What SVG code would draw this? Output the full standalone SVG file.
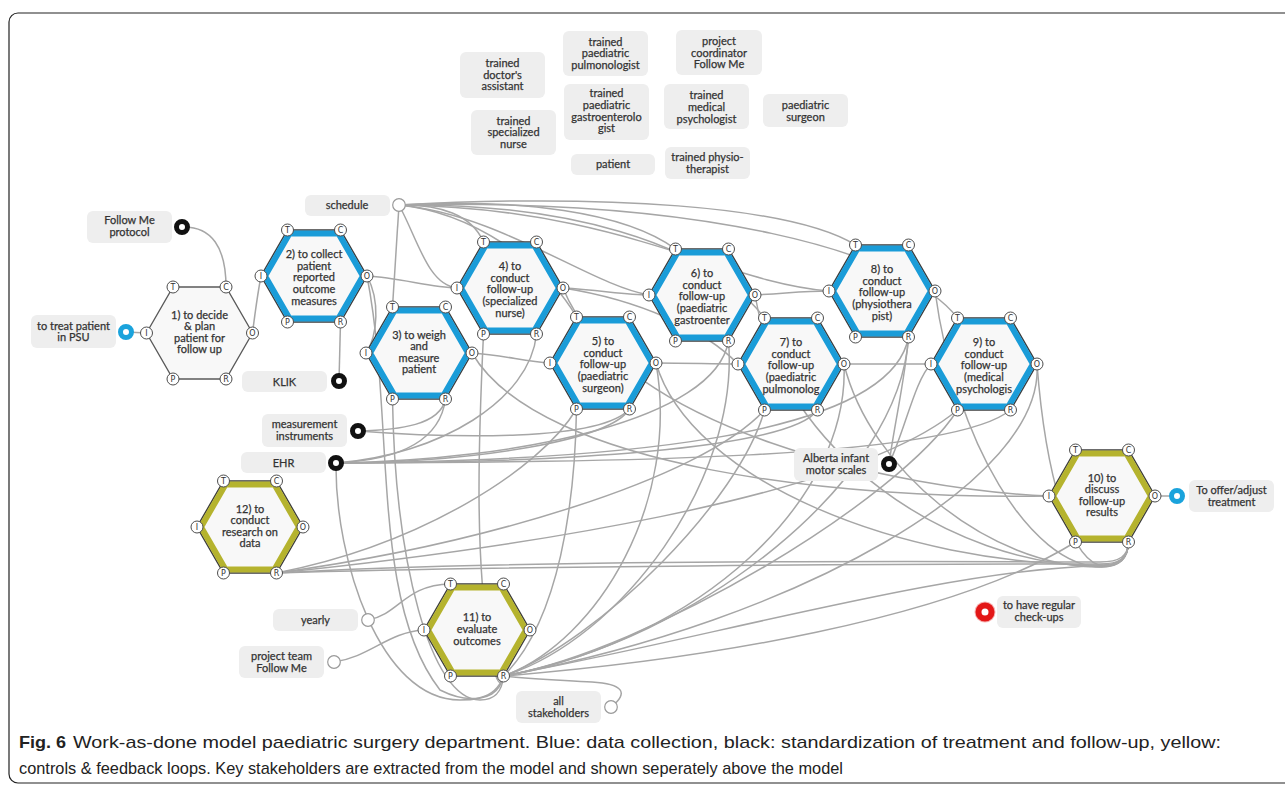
<svg xmlns="http://www.w3.org/2000/svg" xmlns:xlink="http://www.w3.org/1999/xlink" width="1285" height="791" viewBox="0 0 1285 791">
<style>
  .wire{fill:none;stroke:#a6a6a6;stroke-width:1.5}
  .box{fill:#eeeeee}
  .lbl{font-family:Lato,"Open Sans","Liberation Sans",sans-serif;font-size:11px;fill:#333;stroke:#333;stroke-width:0.25;text-anchor:middle}
  .ht{font-family:Lato,"Open Sans","Liberation Sans",sans-serif;font-size:11px;fill:#333;stroke:#333;stroke-width:0.25;text-anchor:middle}
  .outline{fill:#f8f8f8;stroke:#3d3d3d;stroke-width:1.5}
  .plain{fill:#f8f8f8;stroke:#5a5a5a;stroke-width:1.3}
  .blue{fill:none;stroke:#1a9cd8;stroke-width:6}
  .yellow{fill:none;stroke:#b5b32e;stroke-width:6}
  .pcir{fill:#ffffff;stroke:#4d4d4d;stroke-width:1}
  .ptxt{font-family:"DejaVu Sans","Liberation Sans",sans-serif;font-size:8px;fill:#333;text-anchor:middle}
  .dotk{fill:#ffffff;stroke:#111111;stroke-width:5}
  .dotb{fill:#ffffff;stroke:#1aa3dc;stroke-width:5}
  .ring{fill:#ffffff;stroke:#9a9a9a;stroke-width:1.2}
  .cap{font-family:"Liberation Sans Narrow","Liberation Sans",sans-serif;font-size:17px;fill:#222}
</style>
<defs>
  <path id="hexOuter" d="M-26.5,-46H26.5L53,0L26.5,46H-26.5L-53,0Z"/>
  <path id="hexBand" d="M-24.5,-42.5H24.5L49,0L24.5,42.5H-24.5L-49,0Z"/>
  <g id="ports">
    <circle class="pcir" cx="-26.5" cy="-46" r="6"/><text class="ptxt" x="-26.5" y="-43">T</text>
    <circle class="pcir" cx="26.5" cy="-46" r="6"/><text class="ptxt" x="26.5" y="-43">C</text>
    <circle class="pcir" cx="-53" cy="0" r="6"/><text class="ptxt" x="-53" y="3">I</text>
    <circle class="pcir" cx="53" cy="0" r="6"/><text class="ptxt" x="53" y="3">O</text>
    <circle class="pcir" cx="-26.5" cy="46" r="6"/><text class="ptxt" x="-26.5" y="49">P</text>
    <circle class="pcir" cx="26.5" cy="46" r="6"/><text class="ptxt" x="26.5" y="49">R</text>
  </g>
</defs>

<rect width="1285" height="791" fill="#ffffff"/>
<!-- figure frame -->
<rect x="9" y="13" width="1300" height="770" rx="9" fill="none" stroke="#222" stroke-width="1.2"/>

<!-- stakeholder list -->
<g id="stakeholders">
  <g id="s-doctor-assistant"><rect class="box" x="460" y="52" width="85" height="46" rx="6"/>
    <text class="lbl"><tspan x="502.5" y="67">trained</tspan><tspan x="502.5" y="78.5">doctor's</tspan><tspan x="502.5" y="90">assistant</tspan></text></g>
  <g id="s-pulmonologist"><rect class="box" x="563" y="31" width="85" height="45" rx="6"/>
    <text class="lbl"><tspan x="605.5" y="45.5">trained</tspan><tspan x="605.5" y="57">paediatric</tspan><tspan x="605.5" y="68.5">pulmonologist</tspan></text></g>
  <g id="s-coordinator"><rect class="box" x="676" y="30" width="86" height="45" rx="6"/>
    <text class="lbl"><tspan x="719" y="45">project</tspan><tspan x="719" y="56.5">coordinator</tspan><tspan x="719" y="68">Follow Me</tspan></text></g>
  <g id="s-gastro"><rect class="box" x="564" y="84" width="85" height="56" rx="6"/>
    <text class="lbl"><tspan x="606.5" y="97.3">trained</tspan><tspan x="606.5" y="109">paediatric</tspan><tspan x="606.5" y="120.7">gastroenterolo</tspan><tspan x="606.5" y="132.4">gist</tspan></text></g>
  <g id="s-psychologist"><rect class="box" x="664" y="84" width="85" height="45" rx="6"/>
    <text class="lbl"><tspan x="706.5" y="99">trained</tspan><tspan x="706.5" y="110.8">medical</tspan><tspan x="706.5" y="122.5">psychologist</tspan></text></g>
  <g id="s-surgeon"><rect class="box" x="763" y="94" width="85" height="33" rx="6"/>
    <text class="lbl"><tspan x="805.5" y="109">paediatric</tspan><tspan x="805.5" y="120.5">surgeon</tspan></text></g>
  <g id="s-nurse"><rect class="box" x="471" y="110" width="85" height="45" rx="6"/>
    <text class="lbl"><tspan x="513.5" y="124.5">trained</tspan><tspan x="513.5" y="136">specialized</tspan><tspan x="513.5" y="147.5">nurse</tspan></text></g>
  <g id="s-patient"><rect class="box" x="571" y="154" width="84" height="21" rx="6"/>
    <text class="lbl" x="613" y="168">patient</text></g>
  <g id="s-physio"><rect class="box" x="665" y="147" width="85" height="32" rx="6"/>
    <text class="lbl"><tspan x="707.5" y="161">trained physio-</tspan><tspan x="707.5" y="172.7">therapist</tspan></text></g>
</g>

<!-- connectors -->
<g id="connectors" class="wire">
  <path d="M182,227 C212,226 226,248 226,287"/>
  <path d="M126,332 L146.5,333"/>
  <path d="M252.5,333 C256,305 258,292 261,276"/>
  <path d="M340.5,322 L339,381"/>
  <path d="M368,620 C400,614 404,585 450.5,584"/>
  <path d="M334,662 C370,657 388,632 424,630"/>
  <path d="M611,707 C630,692 622,684 592,682 C560,680 530,679 503.5,676"/>
  <path d="M1155,496 L1177,496"/>
  <path d="M358,431 C400,430 440,425 445.5,399"/>
  <path d="M358,431 C450,438 600,442 629.5,409"/>
  <!-- schedule -->
  <path d="M399,205 L392.5,307"/>
  <path d="M399,205 C418,240 428,285 457,288"/>
  <path d="M399,205 C440,204 472,215 483.5,242"/>
  <path d="M399,205 C470,212 545,262 576.5,317"/>
  <path d="M399,205 C520,198 625,212 675.5,249"/>
  <path d="M399,205 C500,214 590,285 649,295"/>
  <path d="M399,205 C560,203 705,240 764.5,318"/>
  <path d="M399,205 C600,194 790,205 855.5,245"/>
  <path d="M399,205 C620,208 720,282 829,291"/>
  <path d="M399,205 C700,198 905,250 957.5,318"/>
  <!-- sequence of follow-up steps -->
  <path d="M472,353 C505,355 525,362 550,363"/>
  <path d="M563,288 C600,290 625,295 649,295"/>
  <path d="M656,363 C690,363 710,364 738,364"/>
  <path d="M755,295 C790,293 805,291 829,291"/>
  <path d="M844,364 C880,364 905,364 931,364"/>
  <path d="M367,276 C400,278 430,287 457,288"/>
  <path d="M367,276 C380,300 378,335 366,353"/>
  <path d="M563,288 C640,300 705,330 738,364"/>
  <!-- into step 10 resource -->
  <path d="M1037,364 C1045,470 1070,566 1105,566 C1120,566 1128,558 1128.5,542"/>
  <path d="M935,291 C955,440 1030,567 1102,567 C1120,567 1128,558 1128.5,542"/>
  <path d="M844,364 C870,470 990,567 1100,567 C1120,567 1128,558 1128.5,542"/>
  <path d="M755,295 C780,450 950,566 1100,566 C1120,566 1128,558 1128.5,542"/>
  <path d="M656,363 C690,480 900,565 1100,565 C1120,565 1128,558 1128.5,542"/>
  <path d="M276.5,573 C500,566 900,564 1100,564 C1120,564 1128,558 1128.5,542"/>
  <path d="M276.5,573 C500,560 900,561 1100,562 C1120,562 1128,556 1128.5,542"/>
  <path d="M503.5,676 C700,640 950,568 1100,566 C1120,566 1128,558 1128.5,542"/>
  <!-- into step 10 input -->
  <path d="M563,288 C620,430 900,490 1049,496"/>
  <path d="M472,353 C540,470 850,500 1049,496"/>
  <!-- into step 11 -->
  <path d="M1037,364 C1045,480 800,620 503.5,676"/>
  <path d="M844,364 C850,500 700,640 503.5,676"/>
  <path d="M908.5,337 C900,480 700,640 503.5,676"/>
  <path d="M656,363 C680,500 600,640 503.5,676"/>
  <path d="M728.5,341 C740,480 620,640 503.5,676"/>
  <path d="M336,463 C335,560 380,700 460,700 C490,700 500,692 503.5,676"/>
  <path d="M367,276 C395,420 370,600 440,690 C470,705 495,700 503.5,676"/>
  <path d="M392.5,399 C395,560 430,700 480,700 C495,700 502,692 503.5,676"/>
  <path d="M483.5,334 C478,450 475,560 490,650 C495,680 500,690 503.5,676"/>
  <!-- research and evaluation fans -->
  <path d="M276.5,573 C420,545 540,470 576.5,409"/>
  <path d="M276.5,573 C480,545 700,480 764.5,410"/>
  <path d="M276.5,573 C500,550 850,500 957.5,410"/>
  <path d="M503.5,676 C600,640 740,500 764.5,410"/>
  <path d="M503.5,676 C650,650 900,500 957.5,410"/>
  <path d="M503.5,676 C560,620 575,500 576.5,409"/>
  <path d="M503.5,676 C700,660 950,620 1075.5,542"/>
  <!-- EHR -->
  <path d="M336,463 C600,462 950,460 1010.5,410"/>
  <path d="M336,463 C600,461 890,440 908.5,337"/>
  <path d="M336,463 C550,463 790,450 817.5,410"/>
  <path d="M336,463 C520,460 715,420 728.5,341"/>
  <path d="M336,463 C480,462 610,440 629.5,409"/>
  <path d="M336,463 C440,455 530,400 536.5,334"/>
  <path d="M336,463 C400,460 440,440 445.5,399"/>
  <!-- motor scales -->
  <path d="M889,464 C895,420 905,380 908.5,337"/>
  <path d="M889,464 C905,430 915,380 931,364"/>
</g>

<!-- external labels -->
<g id="n-protocol"><rect class="box" x="87" y="211" width="85" height="32" rx="6"/>
  <text class="lbl"><tspan x="129.5" y="224">Follow Me</tspan><tspan x="129.5" y="235.7">protocol</tspan></text>
  <circle class="dotk" cx="182" cy="227" r="5.5"/></g>
<g id="n-treat"><rect class="box" x="31" y="315" width="85" height="33" rx="6"/>
  <text class="lbl"><tspan x="73.5" y="329.5">to treat patient</tspan><tspan x="73.5" y="341.2">in PSU</tspan></text>
  <circle class="dotb" cx="126" cy="332" r="5.5"/></g>
<g id="n-klik"><rect class="box" x="242" y="371" width="85" height="21" rx="6"/>
  <text class="lbl" x="284.5" y="385.5">KLIK</text>
  <circle class="dotk" cx="339" cy="381" r="5.5"/></g>
<g id="n-schedule"><rect class="box" x="305" y="195" width="85" height="21" rx="6"/>
  <text class="lbl" x="347" y="209">schedule</text>
  <circle class="ring" cx="399" cy="205" r="6.3"/></g>
<g id="n-instruments"><rect class="box" x="262" y="414" width="85" height="33" rx="6"/>
  <text class="lbl"><tspan x="304.5" y="428">measurement</tspan><tspan x="304.5" y="439.8">instruments</tspan></text>
  <circle class="dotk" cx="358" cy="431" r="5.5"/></g>
<g id="n-ehr"><rect class="box" x="241" y="452" width="85" height="21" rx="6"/>
  <text class="lbl" x="283.5" y="466.5">EHR</text>
  <circle class="dotk" cx="336" cy="463" r="5.5"/></g>
<g id="n-yearly"><rect class="box" x="273" y="609" width="85" height="22" rx="6"/>
  <text class="lbl" x="315.5" y="623.8">yearly</text>
  <circle class="ring" cx="368" cy="620" r="6.3"/></g>
<g id="n-team"><rect class="box" x="239" y="646" width="85" height="32" rx="6"/>
  <text class="lbl"><tspan x="281.5" y="659.8">project team</tspan><tspan x="281.5" y="671.5">Follow Me</tspan></text>
  <circle class="ring" cx="334" cy="662" r="6.3"/></g>
<g id="n-all"><rect class="box" x="516" y="691" width="85" height="32" rx="6"/>
  <text class="lbl"><tspan x="558.5" y="704.5">all</tspan><tspan x="558.5" y="716.5">stakeholders</tspan></text>
  <circle class="ring" cx="611" cy="707" r="6.3"/></g>
<g id="n-alberta"><rect class="box" x="794" y="448" width="84" height="33" rx="6"/>
  <text class="lbl"><tspan x="836" y="462">Alberta infant</tspan><tspan x="836" y="473.8">motor scales</tspan></text>
  <circle class="dotk" cx="889" cy="464" r="5.5"/></g>
<g id="n-offer"><rect class="box" x="1189" y="480" width="85" height="32" rx="6"/>
  <text class="lbl"><tspan x="1231.5" y="493.8">To offer/adjust</tspan><tspan x="1231.5" y="505.5">treatment</tspan></text>
  <circle class="dotb" cx="1177" cy="496" r="5.5"/></g>
<g id="n-checkups"><rect class="box" x="997" y="596" width="84" height="32" rx="6"/>
  <text class="lbl"><tspan x="1039" y="608.8">to have regular</tspan><tspan x="1039" y="620.5">check-ups</tspan></text>
  <circle cx="985" cy="612" r="10.5" fill="#e52020" opacity="0.35"/>
  <circle cx="985" cy="612" r="6.5" fill="#ffffff" stroke="#e31717" stroke-width="6"/></g>

<!-- functions -->
<g id="f1" transform="translate(199.5,333)">
  <use href="#hexOuter" class="plain"/>
  <text class="ht"><tspan x="0" y="-14.3">1) to decide</tspan><tspan x="0" y="-2.8">&amp; plan</tspan><tspan x="0" y="8.7">patient for</tspan><tspan x="0" y="20.2">follow up</tspan></text>
  <use href="#ports"/>
</g>
<g id="f2" transform="translate(314,276)">
  <use href="#hexOuter" class="outline"/><use href="#hexBand" class="blue"/>
  <text class="ht"><tspan x="0" y="-18.2">2) to collect</tspan><tspan x="0" y="-6.5">patient</tspan><tspan x="0" y="5.2">reported</tspan><tspan x="0" y="16.9">outcome</tspan><tspan x="0" y="28.6">measures</tspan></text>
  <use href="#ports"/>
</g>
<g id="f3" transform="translate(419,353)">
  <use href="#hexOuter" class="outline"/><use href="#hexBand" class="blue"/>
  <text class="ht"><tspan x="0" y="-14.3">3) to weigh</tspan><tspan x="0" y="-2.8">and</tspan><tspan x="0" y="8.7">measure</tspan><tspan x="0" y="20.2">patient</tspan></text>
  <use href="#ports"/>
</g>
<g id="f4" transform="translate(510,288)">
  <use href="#hexOuter" class="outline"/><use href="#hexBand" class="blue"/>
  <text class="ht"><tspan x="0" y="-18.2">4) to</tspan><tspan x="0" y="-6.5">conduct</tspan><tspan x="0" y="5.2">follow-up</tspan><tspan x="0" y="16.9">(specialized</tspan><tspan x="0" y="28.6">nurse)</tspan></text>
  <use href="#ports"/>
</g>
<g id="f5" transform="translate(603,363)">
  <use href="#hexOuter" class="outline"/><use href="#hexBand" class="blue"/>
  <text class="ht"><tspan x="0" y="-18.2">5) to</tspan><tspan x="0" y="-6.5">conduct</tspan><tspan x="0" y="5.2">follow-up</tspan><tspan x="0" y="16.9">(paediatric</tspan><tspan x="0" y="28.6">surgeon)</tspan></text>
  <use href="#ports"/>
</g>
<g id="f6" transform="translate(702,295)">
  <use href="#hexOuter" class="outline"/><use href="#hexBand" class="blue"/>
  <text class="ht"><tspan x="0" y="-18.2">6) to</tspan><tspan x="0" y="-6.5">conduct</tspan><tspan x="0" y="5.2">follow-up</tspan><tspan x="0" y="16.9">(paediatric</tspan><tspan x="0" y="28.6">gastroenter</tspan></text>
  <use href="#ports"/>
</g>
<g id="f7" transform="translate(791,364)">
  <use href="#hexOuter" class="outline"/><use href="#hexBand" class="blue"/>
  <text class="ht"><tspan x="0" y="-18.2">7) to</tspan><tspan x="0" y="-6.5">conduct</tspan><tspan x="0" y="5.2">follow-up</tspan><tspan x="0" y="16.9">(paediatric</tspan><tspan x="0" y="28.6">pulmonolog</tspan></text>
  <use href="#ports"/>
</g>
<g id="f8" transform="translate(882,291)">
  <use href="#hexOuter" class="outline"/><use href="#hexBand" class="blue"/>
  <text class="ht"><tspan x="0" y="-18.2">8) to</tspan><tspan x="0" y="-6.5">conduct</tspan><tspan x="0" y="5.2">follow-up</tspan><tspan x="0" y="16.9">(physiothera</tspan><tspan x="0" y="28.6">pist)</tspan></text>
  <use href="#ports"/>
</g>
<g id="f9" transform="translate(984,364)">
  <use href="#hexOuter" class="outline"/><use href="#hexBand" class="blue"/>
  <text class="ht"><tspan x="0" y="-18.2">9) to</tspan><tspan x="0" y="-6.5">conduct</tspan><tspan x="0" y="5.2">follow-up</tspan><tspan x="0" y="16.9">(medical</tspan><tspan x="0" y="28.6">psychologis</tspan></text>
  <use href="#ports"/>
</g>
<g id="f10" transform="translate(1102,496)">
  <use href="#hexOuter" class="outline"/><use href="#hexBand" class="yellow"/>
  <text class="ht"><tspan x="0" y="-14.3">10) to</tspan><tspan x="0" y="-2.8">discuss</tspan><tspan x="0" y="8.7">follow-up</tspan><tspan x="0" y="20.2">results</tspan></text>
  <use href="#ports"/>
</g>
<g id="f11" transform="translate(477,630)">
  <use href="#hexOuter" class="outline"/><use href="#hexBand" class="yellow"/>
  <text class="ht"><tspan x="0" y="-9">11) to</tspan><tspan x="0" y="2.8">evaluate</tspan><tspan x="0" y="14.6">outcomes</tspan></text>
  <use href="#ports"/>
</g>
<g id="f12" transform="translate(250,527)">
  <use href="#hexOuter" class="outline"/><use href="#hexBand" class="yellow"/>
  <text class="ht"><tspan x="0" y="-14.3">12) to</tspan><tspan x="0" y="-2.8">conduct</tspan><tspan x="0" y="8.7">research on</tspan><tspan x="0" y="20.2">data</tspan></text>
  <use href="#ports"/>
</g>

<!-- caption -->
<g id="caption">
  <text class="cap" x="19" y="748" font-weight="bold" textLength="47" lengthAdjust="spacingAndGlyphs">Fig. 6</text>
  <text class="cap" x="73" y="748" textLength="1148" lengthAdjust="spacingAndGlyphs">Work-as-done model paediatric surgery department. Blue: data collection, black: standardization of treatment and follow-up, yellow:</text>
  <text class="cap" x="19" y="774" textLength="824" lengthAdjust="spacingAndGlyphs">controls &amp; feedback loops. Key stakeholders are extracted from the model and shown seperately above the model</text>
</g>
</svg>
